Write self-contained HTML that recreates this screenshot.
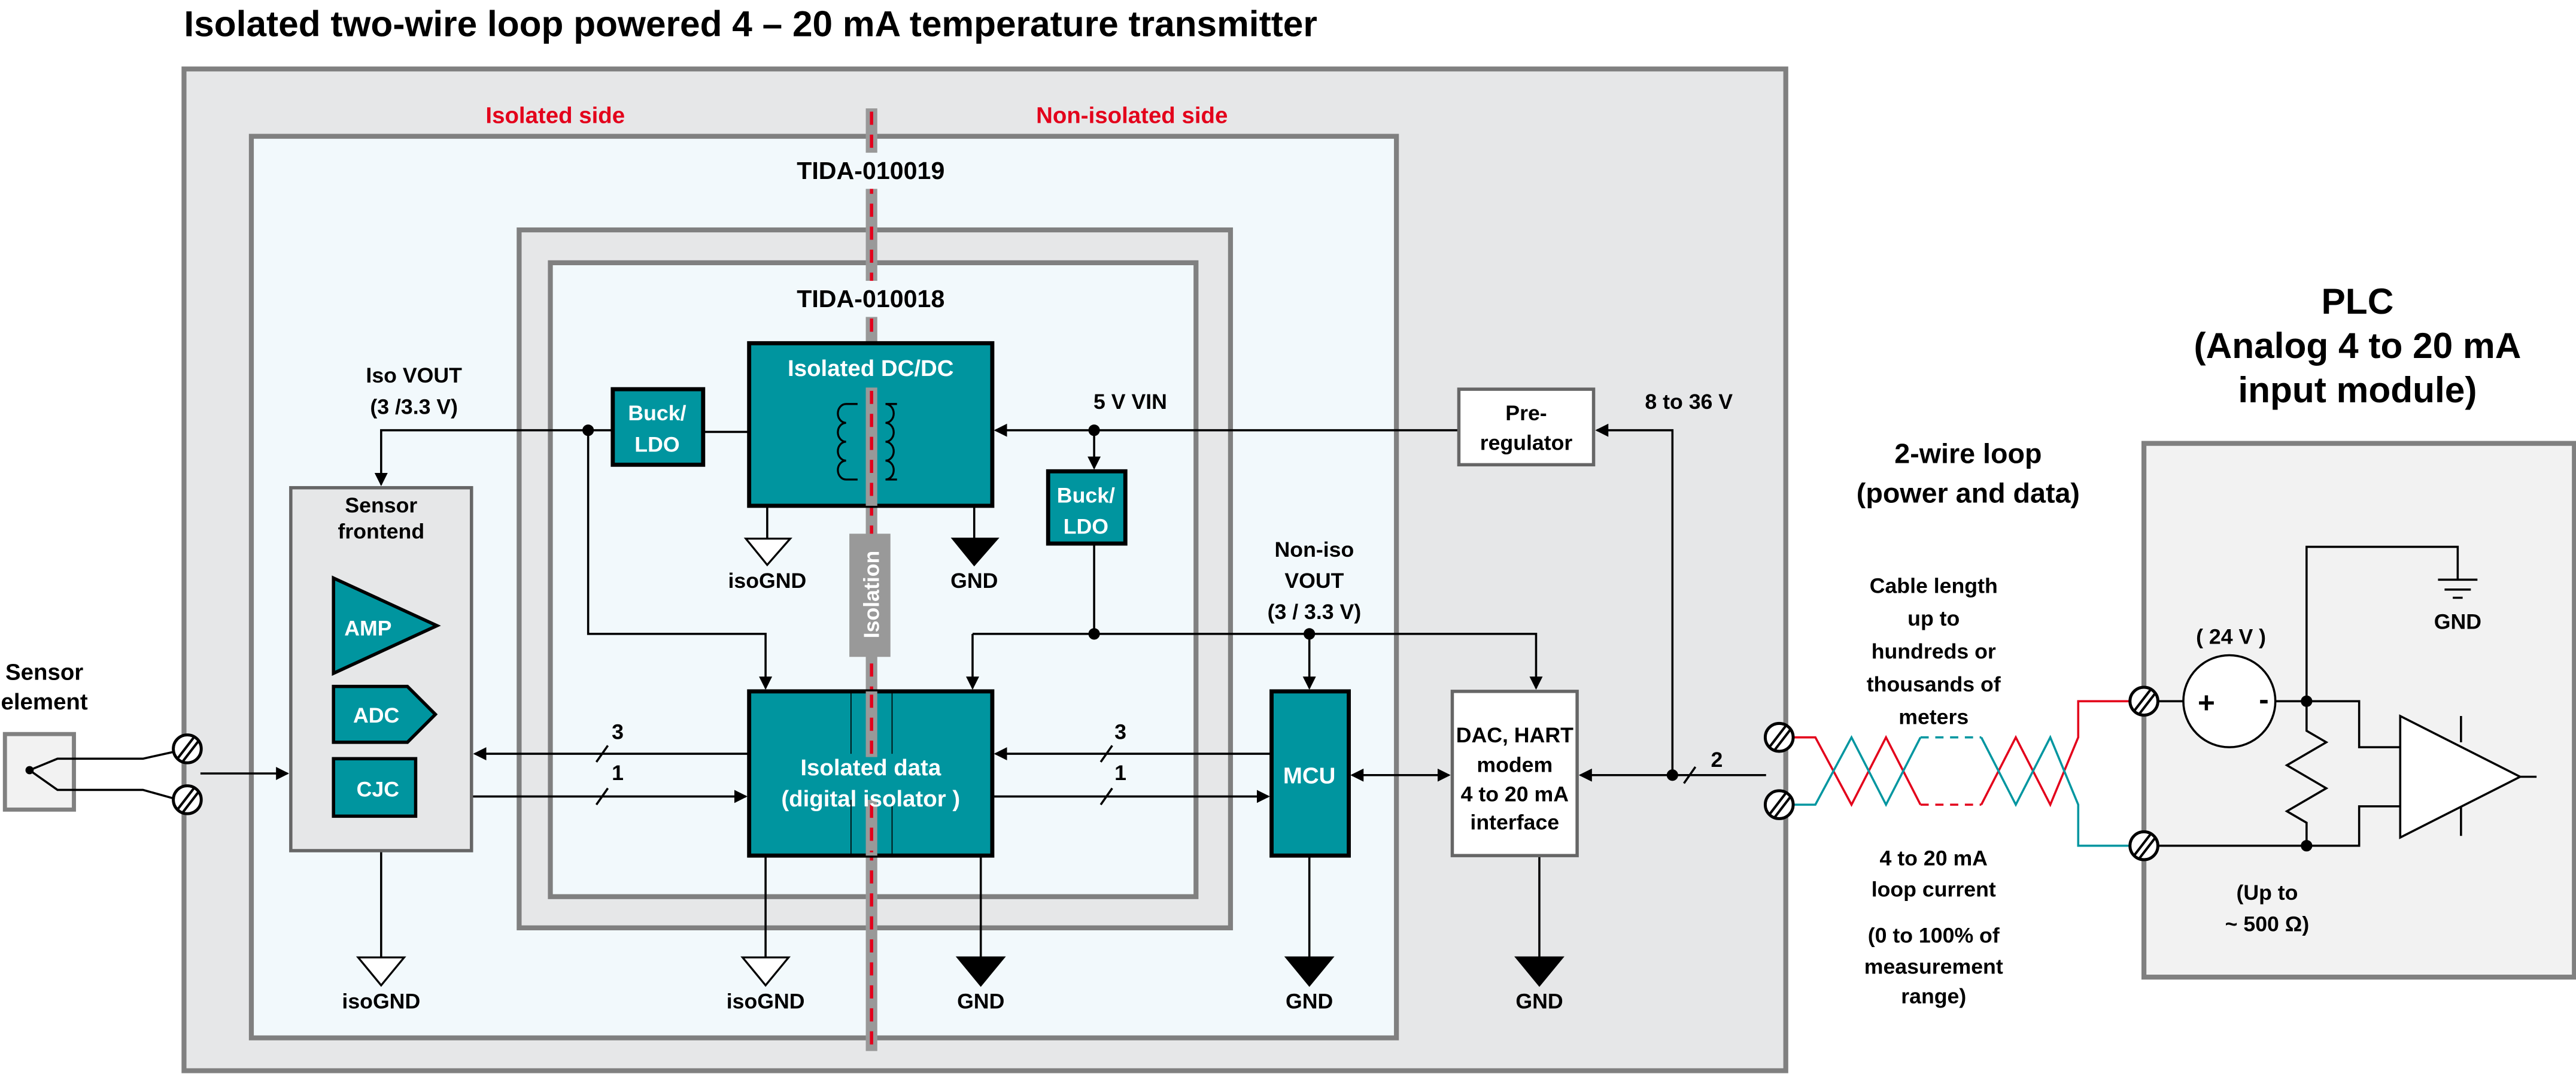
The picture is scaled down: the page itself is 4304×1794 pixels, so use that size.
<!DOCTYPE html>
<html><head><meta charset="utf-8"><style>
html,body{margin:0;padding:0;background:#fff}
svg{display:block}
text{font-family:"Liberation Sans Narrow","Liberation Sans",sans-serif;font-weight:bold;fill:#000;text-anchor:middle}
.w{fill:#fff}
.r{fill:#e3001b}
</style></head><body>
<svg width="4304" height="1794" viewBox="0 0 1568 654" preserveAspectRatio="none" xmlns="http://www.w3.org/2000/svg">
<defs>
<marker id="a" markerWidth="8" markerHeight="8" refX="7" refY="4" orient="auto" markerUnits="userSpaceOnUse"><path d="M0,0 L8,4 L0,8 z" fill="#000"/></marker>
<marker id="as" markerWidth="8" markerHeight="8" refX="1" refY="4" orient="auto" markerUnits="userSpaceOnUse"><path d="M8,0 L0,4 L8,8 z" fill="#000"/></marker>
</defs>
<text x="112" y="22" style="font-size:22px;text-anchor:start">Isolated two-wire loop powered 4 – 20 mA temperature transmitter</text>
<!-- outer -->
<rect x="112" y="42" width="975" height="610" fill="#e6e7e8" stroke="#808080" stroke-width="3"/>
<rect x="153" y="83" width="697" height="549" fill="#f2f9fc" stroke="#808080" stroke-width="3"/>
<text x="338" y="75" class="r" style="font-size:14px">Isolated side</text>
<text x="689" y="75" class="r" style="font-size:14px">Non-isolated side</text>
<rect x="316" y="140" width="433" height="425" fill="#e6e7e8" stroke="#808080" stroke-width="3"/>
<rect x="335" y="160" width="393" height="386" fill="#f2f9fc" stroke="#808080" stroke-width="3"/>
<!-- PLC -->
<rect x="1305" y="270" width="262" height="325" fill="#f2f2f2" stroke="#808080" stroke-width="3"/>
<text x="1435" y="191" style="font-size:22px">PLC</text>
<text x="1435" y="218" style="font-size:22px">(Analog 4 to 20 mA</text>
<text x="1435" y="245" style="font-size:22px">input module)</text>
<text x="1198" y="282" style="font-size:17px">2-wire loop</text>
<text x="1198" y="306" style="font-size:17px">(power and data)</text>
<g style="font-size:13px">
<text x="1177" y="361">Cable length</text><text x="1177" y="381">up to</text><text x="1177" y="401">hundreds or</text><text x="1177" y="421">thousands of</text><text x="1177" y="441">meters</text>
<text x="1177" y="527">4 to 20 mA</text><text x="1177" y="546">loop current</text><text x="1177" y="574">(0 to 100% of</text><text x="1177" y="593">measurement</text><text x="1177" y="611">range)</text>
<text x="1358" y="392">( 24 V )</text>
<text x="1496" y="383">GND</text>
<text x="1380" y="548">(Up to</text><text x="1380" y="567">~ 500 Ω)</text>
</g>
<!-- isolation bar -->
<rect x="527" y="66" width="7" height="574" fill="#999"/>
<line x1="530.5" y1="68" x2="530.5" y2="640" stroke="#e3001b" stroke-width="2" stroke-dasharray="8,6"/>
<rect x="480" y="93" width="100" height="22" fill="#f2f9fc"/>
<text x="530" y="109" style="font-size:15px">TIDA-010019</text>
<rect x="480" y="171" width="100" height="22" fill="#f2f9fc"/>
<text x="530" y="187" style="font-size:15px">TIDA-010018</text>
<!-- wires -->
<g stroke="#000" stroke-width="1.3" fill="none">
<path d="M456,263 H428"/>
<path d="M373,262 H232 V295" marker-end="url(#a)"/>
<path d="M358,262 V386 H466 V419" marker-end="url(#a)"/>
<path d="M888,262 H606" marker-end="url(#a)"/>
<path d="M666,262 V285" marker-end="url(#a)"/>
<path d="M666,331 V386"/>
<path d="M592,386 H935 V419" marker-end="url(#a)"/><path d="M592,386 V419" marker-end="url(#a)"/>
<path d="M797,386 V419" marker-end="url(#a)"/>
<path d="M1018,472 V262 H972" marker-end="url(#a)"/>
<path d="M1075,472 H962" marker-end="url(#a)"/>
<path d="M823,472 H882" marker-end="url(#a)" marker-start="url(#as)"/>
<path d="M774,459 H606" marker-end="url(#a)"/>
<path d="M604,485 H772" marker-end="url(#a)"/>
<path d="M456,459 H289" marker-end="url(#a)"/>
<path d="M287,485 H454" marker-end="url(#a)"/>
<path d="M122,471 H175" marker-end="url(#a)"/>
<path d="M232,518 V583"/><path d="M466,521 V583"/><path d="M597,521 V583"/><path d="M797,521 V583"/><path d="M937,521 V583"/>
<path d="M467,308 V328"/><path d="M593,308 V328"/>
<path d="M363,464 L370,454 M363,490 L370,480 M670,464 L677,454 M670,490 L677,480 M1025,477 L1032,467"/>
<!-- PLC -->
<path d="M1314,427 H1329"/><path d="M1385,427 H1436 V455 H1461"/>
<path d="M1314,515 H1436 V491 H1461"/>
<path d="M1404,427 V333 H1496 V353"/>
<path d="M1404,427 V445 L1416,452 L1392,466 L1416,480 L1392,494 L1404,501 V515"/>
<path d="M1484,353 H1508 M1488,359 H1504 M1493,364 H1499"/>
<path d="M1461,436 V510 L1534,473 Z" fill="#fff"/><path d="M1534,473 H1544"/>
<path d="M1498,436 V452 M1498,491 V509"/>
</g>
<text x="376" y="450" style="font-size:13px">3</text><text x="376" y="475" style="font-size:13px">1</text>
<text x="682" y="450" style="font-size:13px">3</text><text x="682" y="475" style="font-size:13px">1</text>
<text x="1045" y="467" style="font-size:13px">2</text>
<g fill="#000"><circle cx="358" cy="262" r="3.5"/><circle cx="666" cy="262" r="3.5"/><circle cx="666" cy="386" r="3.5"/><circle cx="797" cy="386" r="3.5"/><circle cx="1018" cy="472" r="3.5"/><circle cx="1404" cy="427" r="3.5"/><circle cx="1404" cy="515" r="3.5"/></g>
<!-- grounds -->
<g stroke="#000" stroke-width="1.2">
<path d="M454,328 H481 L467,344 Z" fill="#fff"/>
<path d="M580,328 H607 L593,344 Z" fill="#000"/>
<path d="M218,583 H246 L232,600 Z" fill="#fff"/>
<path d="M452,583 H480 L466,600 Z" fill="#fff"/>
<path d="M583,583 H611 L597,600 Z" fill="#000"/>
<path d="M783,583 H811 L797,600 Z" fill="#000"/>
<path d="M923,583 H951 L937,600 Z" fill="#000"/>
</g>
<g style="font-size:13px">
<text x="467" y="358">isoGND</text><text x="593" y="358">GND</text>
<text x="232" y="614">isoGND</text><text x="466" y="614">isoGND</text><text x="597" y="614">GND</text><text x="797" y="614">GND</text><text x="937" y="614">GND</text>
<text x="252" y="233">Iso VOUT</text><text x="252" y="252">(3 /3.3 V)</text>
<text x="688" y="249">5 V VIN</text>
<text x="1028" y="249">8 to 36 V</text>
<text x="800" y="339">Non-iso</text><text x="800" y="358">VOUT</text><text x="800" y="377">(3 / 3.3 V)</text>
<text x="27" y="414" style="font-size:14px">Sensor</text><text x="27" y="432" style="font-size:14px">element</text>
</g>
<!-- blocks -->
<rect x="456" y="209" width="148" height="99" fill="#00959f" stroke="#000" stroke-width="2.5"/>
<rect x="527" y="236" width="7" height="72" fill="#999"/>
<line x1="530.5" y1="238" x2="530.5" y2="306" stroke="#e3001b" stroke-width="2" stroke-dasharray="8,6"/>
<text x="530" y="229" class="w" style="font-size:14px">Isolated DC/DC</text>
<g stroke="#000" stroke-width="1.2" fill="none">
<path d="M515,246 H522 M515,292 H522 M515,246 a5,5.75 0 0 0 0,11.5 a5,5.75 0 0 0 0,11.5 a5,5.75 0 0 0 0,11.5 a5,5.75 0 0 0 0,11.5"/>
<path d="M539,246 H546 M539,292 H546 M539,246 a5,5.75 0 0 1 0,11.5 a5,5.75 0 0 1 0,11.5 a5,5.75 0 0 1 0,11.5 a5,5.75 0 0 1 0,11.5"/>
</g>
<rect x="517" y="325" width="25" height="75" fill="#999"/>
<text transform="translate(535,362) rotate(-90)" class="w" style="font-size:13px;font-family:'Liberation Sans',sans-serif">Isolation</text>
<rect x="456" y="421" width="148" height="100" fill="#00959f" stroke="#000" stroke-width="2.5"/>
<rect x="527" y="421" width="7" height="40" fill="#999"/><rect x="527" y="487" width="7" height="34" fill="#999"/>
<line x1="530.5" y1="423" x2="530.5" y2="459" stroke="#e3001b" stroke-width="2" stroke-dasharray="8,6"/>
<line x1="530.5" y1="490" x2="530.5" y2="519" stroke="#e3001b" stroke-width="2" stroke-dasharray="8,6"/>
<path d="M518,422 V459 M543,422 V459 M518,487 V520 M543,487 V520" stroke="#000" stroke-width="0.6"/>
<text x="530" y="472" class="w" style="font-size:14px">Isolated data</text>
<text x="530" y="491" class="w" style="font-size:14px">(digital isolator )</text>
<rect x="373" y="237" width="55" height="46" fill="#00959f" stroke="#000" stroke-width="2.5"/>
<text x="400" y="256" class="w" style="font-size:13px">Buck/</text><text x="400" y="275" class="w" style="font-size:13px">LDO</text>
<rect x="638" y="287" width="47" height="44" fill="#00959f" stroke="#000" stroke-width="2.5"/>
<text x="661" y="306" class="w" style="font-size:13px">Buck/</text><text x="661" y="325" class="w" style="font-size:13px">LDO</text>
<rect x="774" y="421" width="47" height="100" fill="#00959f" stroke="#000" stroke-width="2.5"/>
<text x="797" y="477" class="w" style="font-size:14px">MCU</text>
<rect x="884" y="421" width="76" height="100" fill="#fff" stroke="#666" stroke-width="2"/>
<g style="font-size:13px"><text x="922" y="452">DAC, HART</text><text x="922" y="470">modem</text><text x="922" y="488">4 to 20 mA</text><text x="922" y="505">interface</text></g>
<rect x="888" y="237" width="82" height="46" fill="#fff" stroke="#666" stroke-width="2"/>
<text x="929" y="256" style="font-size:13px">Pre-</text><text x="929" y="274" style="font-size:13px">regulator</text>
<!-- sensor frontend -->
<rect x="177" y="297" width="110" height="221" fill="#e6e7e8" stroke="#666" stroke-width="2"/>
<text x="232" y="312" style="font-size:13px">Sensor</text><text x="232" y="328" style="font-size:13px">frontend</text>
<path d="M203,352 L266,381 L203,410 Z" fill="#00959f" stroke="#000" stroke-width="2"/>
<text x="224" y="387" class="w" style="font-size:13px">AMP</text>
<path d="M203,418 H248 L265,435 L248,452 H203 Z" fill="#00959f" stroke="#000" stroke-width="2"/>
<text x="229" y="440" class="w" style="font-size:13px">ADC</text>
<rect x="203" y="462" width="50" height="35" fill="#00959f" stroke="#000" stroke-width="2"/>
<text x="230" y="485" class="w" style="font-size:13px">CJC</text>
<!-- sensor element -->
<rect x="3" y="447" width="42" height="46" fill="#f2f2f2" stroke="#808080" stroke-width="2.5"/>
<g stroke="#000" stroke-width="1.3" fill="none">
<path d="M105,458 L87,462 L35,462 L18,469 L35,481 L87,481 L105,486"/>
</g>
<circle cx="18" cy="469" r="2.5" fill="#000"/>
<!-- twisted pair -->
<g fill="none" stroke-width="1.3">
<path d="M1088,449 H1105 L1127,490 L1148,449 L1169,490" stroke="#e3001b"/>
<path d="M1169,490 H1206" stroke="#e3001b" stroke-dasharray="5,4"/>
<path d="M1206,490 L1227,449 L1248,490 L1265,449 V427 H1297" stroke="#e3001b"/>
<path d="M1088,490 H1105 L1127,449 L1148,490 L1169,449" stroke="#0096a0"/>
<path d="M1169,449 H1206" stroke="#0096a0" stroke-dasharray="5,4"/>
<path d="M1206,449 L1227,490 L1248,449 L1265,490 V515 H1297" stroke="#0096a0"/>
</g>
<!-- screws -->
<g stroke="#000" stroke-width="1.8" fill="#fff">
<circle cx="114" cy="456" r="8.5"/><circle cx="114" cy="487" r="8.5"/>
<circle cx="1083" cy="449" r="8.5"/><circle cx="1083" cy="490" r="8.5"/>
<circle cx="1305" cy="427" r="8.5"/><circle cx="1305" cy="515" r="8.5"/>
</g>
<g stroke="#000" stroke-width="1.5">
<path d="M108,462 L118,449 M111,464 L121,451 M108,493 L118,480 M111,495 L121,482"/>
<path d="M1077,455 L1087,442 M1080,457 L1090,444 M1077,496 L1087,483 M1080,498 L1090,485"/>
<path d="M1299,433 L1309,420 M1302,435 L1312,422 M1299,521 L1309,508 M1302,523 L1312,510"/>
</g>
<!-- voltage source -->
<circle cx="1357" cy="427" r="28" fill="#fff" stroke="#000" stroke-width="1.3"/>
<text x="1343" y="434" style="font-size:18px">+</text><text x="1378" y="432" style="font-size:18px">-</text>
</svg>
</body></html>
